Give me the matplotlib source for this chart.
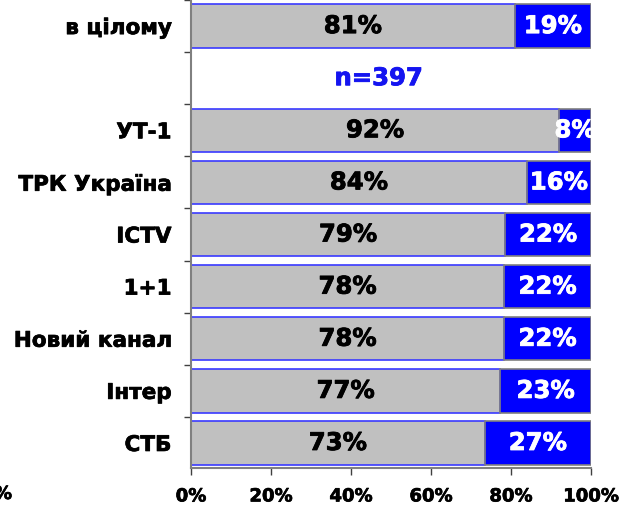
import matplotlib
matplotlib.use("Agg")
import matplotlib.pyplot as plt
import matplotlib.patheffects as pe
from matplotlib.ticker import FixedLocator

plt.rcParams['font.family'] = ['DejaVu Sans']

categories = ["в цілому", "", "УТ-1", "ТРК Україна", "ICTV", "1+1",
              "Новий канал", "Інтер", "СТБ"]
grey_values = [80.9, None, 92.0, 83.9, 78.5, 78.25, 78.25, 77.3, 73.4]
grey_labels = ["81%", None, "92%", "84%", "79%", "78%", "78%", "77%", "73%"]
blue_labels = ["19%", None, "8%", "16%", "22%", "22%", "22%", "23%", "27%"]
xtick_values = [0, 20, 40, 60, 80, 100]
xtick_labels = ["0%", "20%", "40%", "60%", "80%", "100%"]
n_text = "n=397"

GREY = "#C0C0C0"
BLUE = "#0000FF"


def heavy(color, w=0.6):
    return [pe.withStroke(linewidth=w, foreground=color)]


fig = plt.figure(figsize=(6.19, 5.06), dpi=100)
ax = fig.add_axes([191/619, 1 - 469/506, 400/619, 469/506])

bar_h = 0.83
for i, (g, gl, bl) in enumerate(zip(grey_values, grey_labels, blue_labels)):
    if g is None:
        continue
    b = 100 - g
    ax.barh(i, g, left=0, height=bar_h, color=GREY, edgecolor="#3a3aff",
            linewidth=1.2, zorder=2)
    ax.barh(i, b, left=g, height=bar_h, color=BLUE, edgecolor="#808080",
            linewidth=1.2, zorder=3)
    ax.text(g / 2, i, gl, ha="center", va="center", fontsize=17.5,
            fontweight="bold", color="black", zorder=4,
            path_effects=heavy("black"))
    ax.text(g + b / 2, i, bl, ha="center", va="center", fontsize=17.5,
            fontweight="bold", color="white", zorder=4, clip_on=False,
            path_effects=heavy("white"))

ax.text(46.9, 1, n_text, ha="center", va="center", fontsize=17.5,
        fontweight="bold", color="#1414f0", path_effects=heavy("#1414f0"))

ax.set_xlim(0, 100)
ax.set_ylim(8.48, -0.52)

ax.set_yticks(range(len(categories)))
ax.set_yticklabels(categories, fontsize=15.5, fontweight="bold")
ax.yaxis.set_minor_locator(FixedLocator([k - 0.5 for k in range(len(categories) + 1)]))
ax.tick_params(axis="y", which="major", length=0, pad=14)
ax.tick_params(axis="y", which="minor", length=5, width=1, color="#404040", direction="out")

ax.set_xticks(xtick_values)
ax.set_xticklabels(xtick_labels, fontsize=13, fontweight="bold")
ax.tick_params(axis="x", length=5, width=1, color="#404040", direction="out", pad=9)

for lbl in ax.get_yticklabels() + ax.get_xticklabels():
    lbl.set_path_effects(heavy("black", 0.5))

for s in ["top", "right"]:
    ax.spines[s].set_visible(False)
ax.spines["left"].set_color("#808080")
ax.spines["bottom"].set_color("#808080")
ax.spines["left"].set_linewidth(1.5)
ax.spines["bottom"].set_linewidth(1.5)

fig.text(12/619, 1 - 495/506, "0%", ha="right", va="center", fontsize=13,
         fontweight="bold", path_effects=heavy("black", 0.5))

fig.savefig("out.png", dpi=100)
